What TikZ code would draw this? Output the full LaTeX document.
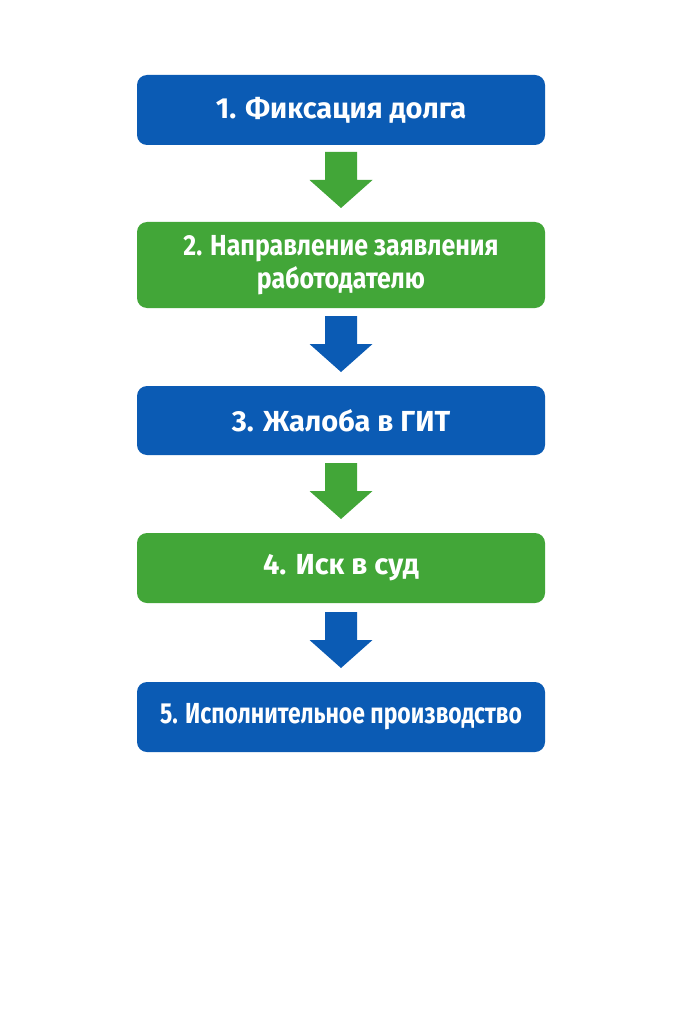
\documentclass[tikz,border=0pt]{standalone}
\usepackage{fontspec}
\setmainfont{Fira Sans}
\newfontfamily\fsmid[FakeStretch=0.86]{Fira Sans}
\newfontfamily\fsnarrow[FakeStretch=0.79]{Fira Sans}
\definecolor{bblue}{HTML}{0B5BB4}
\definecolor{bgreen}{HTML}{42A638}
\tikzset{
  stepbox/.style={rounded corners=10pt, minimum width=408pt, inner sep=0pt, align=center,
    text=white, font=\fontsize{29}{33}\selectfont\bfseries},
  downarrow/.pic={\fill[#1] (-16,0) -- (16,0) -- (16,28) -- (31.5,28) -- (0,56) -- (-31.5,28) -- (-16,28) -- cycle;}
}
\begin{document}
\begin{tikzpicture}[x=1pt,y=-1pt]
\useasboundingbox (0,0) rectangle (683,1024);
\fill[white] (0,0) rectangle (683,1024);
\node[stepbox, fill=bblue, minimum height=70pt] (b1) at (341,110) {1. Фиксация долга};
\node[stepbox, fill=bgreen, minimum height=86pt] (b2) at (341,265) {\fsmid\bfseries 2. Направление заявления\\\fsmid\bfseries работодателю};
\node[stepbox, fill=bblue, minimum height=69pt] (b3) at (341,420.5) {3. Жалоба в ГИТ};
\node[stepbox, fill=bgreen, minimum height=70pt] (b4) at (341,568) {4. Иск в суд};
\node[stepbox, fill=bblue, minimum height=70pt] (b5) at (341,717) {\fsnarrow\bfseries 5. Исполнительное производство};
\pic at (341,152) {downarrow=bgreen};
\pic at (341,316) {downarrow=bblue};
\pic at (341,463) {downarrow=bgreen};
\pic at (341,612) {downarrow=bblue};
\end{tikzpicture}
\end{document}
